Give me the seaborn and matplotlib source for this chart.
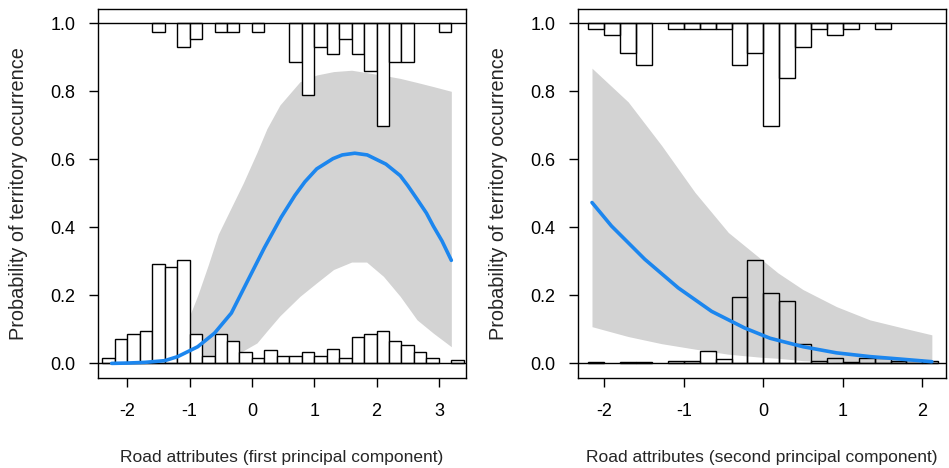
import matplotlib
matplotlib.use("Agg")
import matplotlib.pyplot as plt
import numpy as np
import seaborn as sns

COLOR_CURVE = "#1C86EE"
COLOR_BAND = "#D3D3D3"
COLOR_EDGE = "black"
TICK_SIZE = 13
XLABEL_SIZE = 12.5
YLABEL_SIZE = 14.3

# ---- first principal component ----
pc1_bins = [-2.3, -2.1, -1.9, -1.7, -1.5, -1.3, -1.1, -0.9, -0.7, -0.5, -0.3, -0.1,
            0.1, 0.3, 0.5, 0.7, 0.9, 1.1, 1.3, 1.5, 1.7, 1.9, 2.1, 2.3, 2.5, 2.7,
            2.9, 3.1, 3.3]
pc1_absent = [0.016, 0.072, 0.086, 0.094, 0.292, 0.284, 0.304, 0.086, 0.023, 0.086,
              0.066, 0.033, 0.015, 0.040, 0.022, 0.022, 0.033, 0.023, 0.041, 0.016,
              0.079, 0.086, 0.095, 0.066, 0.055, 0.033, 0.016, 0.0, 0.009]
pc1_present = [0.0, 0.0, 0.0, 0.0, 0.025, 0.0, 0.070, 0.045, 0.0, 0.025, 0.025, 0.0,
               0.025, 0.0, 0.0, 0.114, 0.210, 0.070, 0.090, 0.045, 0.090, 0.139,
               0.302, 0.114, 0.114, 0.0, 0.0, 0.025, 0.0]
pc1_x = [-2.25, -2.0, -1.72, -1.4, -1.19, -0.87, -0.6, -0.33, -0.06, 0.2, 0.47, 0.69,
         0.85, 1.04, 1.3, 1.45, 1.65, 1.85, 2.15, 2.38, 2.5, 2.65, 2.8, 2.91, 3.05, 3.2]
pc1_fit = [0.0, 0.001, 0.003, 0.008, 0.02, 0.049, 0.089, 0.148, 0.246, 0.34, 0.43,
           0.494, 0.534, 0.572, 0.602, 0.613, 0.618, 0.613, 0.586, 0.552, 0.523,
           0.483, 0.442, 0.404, 0.36, 0.303]
pc1_band_x = [-2.25, -2.0, -1.6, -1.3, -1.0, -0.87, -0.7, -0.54, -0.3, -0.14, 0.08,
              0.24, 0.45, 0.77, 1.04, 1.31, 1.6, 1.84, 2.11, 2.38, 2.65, 2.91, 3.2]
pc1_upper = [0.005, 0.02, 0.04, 0.08, 0.14, 0.2, 0.29, 0.38, 0.47, 0.53, 0.62, 0.69,
             0.76, 0.828, 0.848, 0.858, 0.862, 0.855, 0.847, 0.838, 0.826, 0.814, 0.80]
pc1_lower = [0.0, 0.0, 0.0, 0.001, 0.003, 0.005, 0.008, 0.013, 0.025, 0.037, 0.06,
             0.095, 0.14, 0.197, 0.237, 0.276, 0.298, 0.298, 0.256, 0.197, 0.128,
             0.089, 0.049]
pc1_ticks = [-2, -1, 0, 1, 2, 3]

# ---- second principal component ----
pc2_bins = [-2.1, -1.9, -1.7, -1.5, -1.3, -1.1, -0.9, -0.7, -0.5, -0.3, -0.1, 0.1,
            0.3, 0.5, 0.7, 0.9, 1.1, 1.3, 1.5, 1.7, 1.9, 2.1]
pc2_absent = [0.003, 0.0, 0.003, 0.003, 0.0, 0.008, 0.008, 0.037, 0.012, 0.195, 0.304,
              0.207, 0.182, 0.057, 0.008, 0.015, 0.005, 0.015, 0.015, 0.007, 0.011,
              0.008]
pc2_present = [0.017, 0.033, 0.086, 0.124, 0.0, 0.017, 0.017, 0.017, 0.017, 0.124,
               0.086, 0.302, 0.160, 0.070, 0.017, 0.033, 0.017, 0.0, 0.017, 0.0, 0.0,
               0.0]
pc2_x = [-2.155, -1.91, -1.49, -1.07, -0.65, -0.234, 0.084, 0.5, 0.92, 1.34, 1.76, 2.12]
pc2_fit = [0.473, 0.404, 0.306, 0.222, 0.153, 0.104, 0.074, 0.049, 0.031, 0.020, 0.012,
           0.005]
pc2_band_x = [-2.155, -1.70, -1.28, -0.86, -0.44, -0.025, 0.185, 0.5, 0.92, 1.34, 1.76,
              2.12]
pc2_upper = [0.868, 0.769, 0.641, 0.503, 0.385, 0.306, 0.266, 0.217, 0.167, 0.128,
             0.104, 0.084]
pc2_lower = [0.108, 0.079, 0.058, 0.042, 0.027, 0.018, 0.015, 0.008, 0.004, 0.002,
             0.001, 0.0]
pc2_ticks = [-2, -1, 0, 1, 2]

y_ticks = [0.0, 0.2, 0.4, 0.6, 0.8, 1.0]
y_label = "Probability of territory occurrence"


def draw_panel(ax, bins, absent, present, x, fit, band_x, lower, upper,
               xticks, xlim, xlabel, bar_face):
    ax.fill_between(band_x, lower, upper, color=COLOR_BAND, lw=0, zorder=1)

    bins = np.asarray(bins)
    absent = np.asarray(absent)
    present = np.asarray(present)
    m = absent > 0
    ax.bar(bins[m], absent[m], width=0.2, bottom=0, facecolor=bar_face,
           edgecolor=COLOR_EDGE, lw=1.0, zorder=2)
    m = present > 0
    ax.bar(bins[m], -present[m], width=0.2, bottom=1, facecolor=bar_face,
           edgecolor=COLOR_EDGE, lw=1.0, zorder=2)

    ax.axhline(0, color=COLOR_EDGE, lw=1.0, zorder=3)
    ax.axhline(1, color=COLOR_EDGE, lw=1.0, zorder=3)

    sns.lineplot(x=x, y=fit, ax=ax, color=COLOR_CURVE, linewidth=2.6, zorder=4)

    ax.set_xlim(*xlim)
    ax.set_ylim(-0.042, 1.041)
    ax.set_xticks(xticks)
    ax.set_xticklabels([str(t) for t in xticks])
    ax.set_yticks(y_ticks)
    ax.set_yticklabels([f"{t:.1f}" for t in y_ticks])
    ax.tick_params(direction="out", length=6.5, width=1.0, color=COLOR_EDGE,
                   labelsize=TICK_SIZE, labelcolor="black")
    ax.tick_params(axis="y", pad=10)
    ax.tick_params(axis="x", pad=12)
    for sp in ax.spines.values():
        sp.set_visible(True)
        sp.set_color(COLOR_EDGE)
        sp.set_linewidth(1.0)

    ax.set_xlabel(xlabel, fontsize=XLABEL_SIZE)
    ax.set_ylabel(y_label, fontsize=YLABEL_SIZE)
    ax.xaxis.set_label_coords(0.5, -0.216)
    ax.xaxis.label.set_va("center")
    ax.yaxis.label.set_va("center")


sns.set_style("ticks")
plt.rcParams["font.family"] = ["Liberation Sans", "DejaVu Sans"]

fig = plt.figure(figsize=(9.49, 4.68), dpi=100)
ax1 = fig.add_axes([0.1036, 0.193, 0.3871, 0.787])
ax2 = fig.add_axes([0.6094, 0.193, 0.3871, 0.787])

draw_panel(ax1, pc1_bins, pc1_absent, pc1_present, pc1_x, pc1_fit, pc1_band_x,
           pc1_lower, pc1_upper, pc1_ticks, (-2.465, 3.43),
           "Road attributes (first principal component)", "white")
ax1.yaxis.set_label_coords(-0.217, 0.5)

draw_panel(ax2, pc2_bins, pc2_absent, pc2_present, pc2_x, pc2_fit, pc2_band_x,
           pc2_lower, pc2_upper, pc2_ticks, (-2.327, 2.294),
           "Road attributes (second principal component)", "none")
ax2.yaxis.set_label_coords(-0.2186, 0.5)

fig.savefig("out.png", dpi=100, facecolor="white")
